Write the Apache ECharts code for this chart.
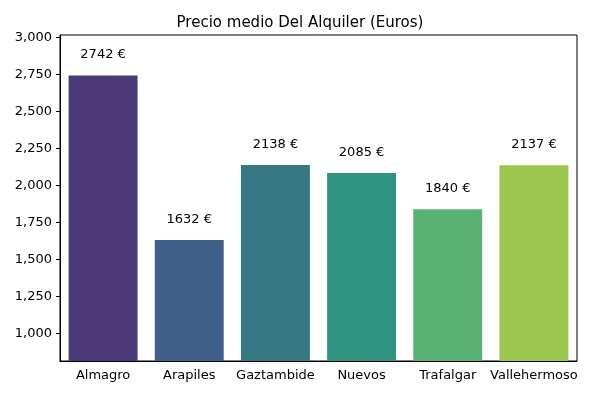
<!DOCTYPE html>
<html><head><meta charset="utf-8">
<script src="https://cdn.jsdelivr.net/npm/echarts@6/dist/echarts.min.js"></script>
<style>html,body{margin:0;padding:0;background:#fff}#c{width:600px;height:400px}</style>
</head><body><div id="c"></div>
<script>
const categories=['Almagro','Arapiles','Gaztambide','Nuevos','Trafalgar','Vallehermoso'];
const values=[2742,1632,2138,2085,1840,2137];
const colors=['#4a3b78','#405f88','#357884','#309380','#58b273','#9bc74e'];
const yTicks=[1000,1250,1500,1750,2000,2250,2500,2750,3000];
const ch=echarts.init(document.getElementById('c'));
const font='DejaVu Sans';
ch.setOption({
 animation:false,
 title:{text:'Precio medio Del Alquiler (Euros)',left:'center',top:11,textStyle:{fontFamily:font,fontSize:15,fontWeight:'normal',color:'#000'}},
 grid:{left:60,right:23,top:35,bottom:39,show:true,borderColor:'#000',borderWidth:1},
 xAxis:{type:'category',data:categories,axisLine:{lineStyle:{color:'#000'}},axisTick:{alignWithLabel:true,length:4,lineStyle:{color:'#000'}},
  axisLabel:{color:'#000',fontFamily:font,fontSize:13,margin:8,interval:0}},
 yAxis:{type:'value',min:816,max:3016,interval:250,splitLine:{show:false},axisLine:{show:true,lineStyle:{color:'#000'}},
  axisTick:{show:true,length:4,lineStyle:{color:'#000'},customValues:yTicks},
  axisLabel:{color:'#000',fontFamily:font,fontSize:13,customValues:yTicks}},
 series:[{type:'bar',barCategoryGap:'20%',
  data:values.map((v,i)=>({value:v,itemStyle:{color:colors[i]}})),
  label:{show:true,position:'top',distance:14,formatter:p=>p.value+' €',color:'#000',fontFamily:font,fontSize:13}}]
});
</script></body></html>
